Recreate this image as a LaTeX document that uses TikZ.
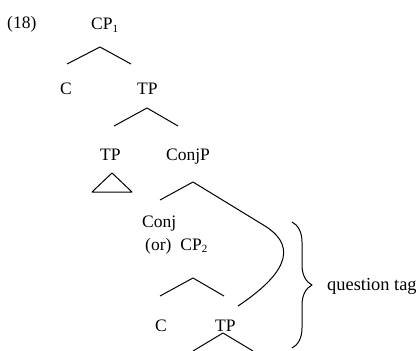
\documentclass[tikz,border=0pt]{standalone}
\usepackage{fontspec}
\setmainfont{Liberation Serif}
\usetikzlibrary{decorations.pathreplacing}
\newcommand\sbs[1]{\raisebox{-0.35ex}{\fontsize{11}{11}\selectfont #1}}
\begin{document}
\begin{tikzpicture}[x=1pt,y=-1pt,
  lbl/.style={inner sep=0pt,anchor=base west,font=\fontsize{17.5}{20}\selectfont},
  edge/.style={line width=1pt,line join=round}]
\useasboundingbox (0,0) rectangle (419,350);
% labels
\node[lbl] (ex) at (7,29) {(18)};
\node[lbl] (cp1) at (91,30) {CP\sbs{1}};
\node[lbl] (c1) at (60,95) {C};
\node[lbl] (tp1) at (137,95) {TP};
\node[lbl] (tp2) at (100,160) {TP};
\node[lbl] (conjp) at (166,160) {ConjP};
\node[lbl] (conj) at (142,227) {Conj};
\node[lbl] (cp2) at (145,250) {(or)\hspace{9pt}CP\sbs{2}};
\node[lbl] (c2) at (155,331) {C};
\node[lbl] (tp3) at (215,331) {TP};
\node[lbl,font=\fontsize{18.4}{20}\selectfont] (qt) at (327,290) {question tag};
% branch points
\coordinate (p1) at (100,47);  \coordinate (p1l) at (67,64);  \coordinate (p1r) at (131,64);
\coordinate (p2) at (147,108); \coordinate (p2l) at (114,126); \coordinate (p2r) at (178,126);
\coordinate (tri) at (112,173); \coordinate (tril) at (92,192); \coordinate (trir) at (132,192);
\coordinate (p3) at (193,182); \coordinate (p3l) at (160,200); \coordinate (p3m) at (265,226);
\coordinate (p3e) at (238,306);
\coordinate (p4) at (193,278); \coordinate (p4l) at (160,296); \coordinate (p4r) at (224,296);
\coordinate (p5) at (223,333); \coordinate (p5l) at (193,351); \coordinate (p5r) at (253,351);
\coordinate (bt) at (292,222); \coordinate (bb) at (292,348);
% edges
\draw[edge] (p1l) -- (p1) -- (p1r);
\draw[edge] (p2l) -- (p2) -- (p2r);
\draw[edge] (tril) -- (tri) -- (trir) -- cycle;
\draw[edge] (p3l) -- (p3) -- (p3m) .. controls (292,243) and (295,268) .. (p3e);
\draw[edge] (p4l) -- (p4) -- (p4r);
\draw[edge] (p5l) -- (p5) -- (p5r);
\draw[edge,decorate,decoration={brace,amplitude=20pt}] (bt) -- (bb);
\end{tikzpicture}
\end{document}
